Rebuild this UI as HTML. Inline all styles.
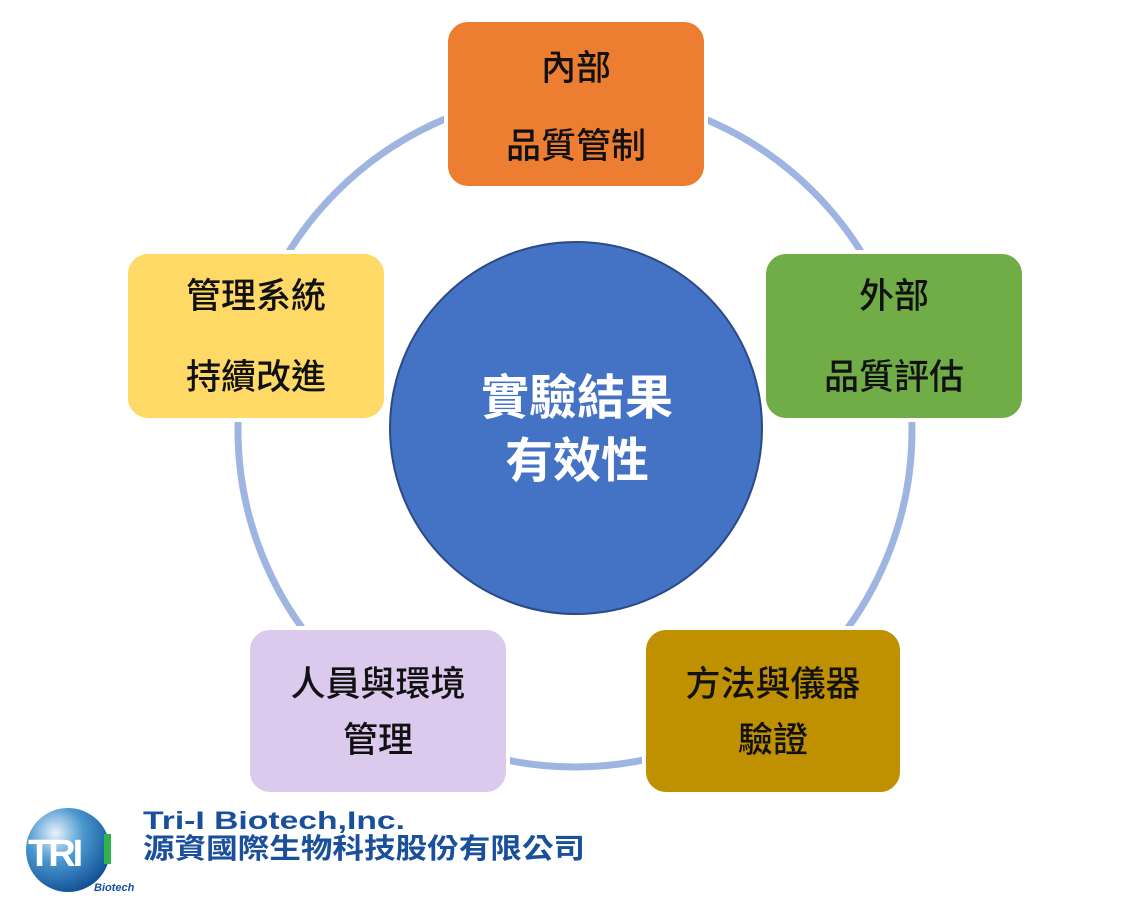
<!DOCTYPE html>
<html><head><meta charset="utf-8"><style>
body{margin:0;width:1140px;height:912px;background:#fff;overflow:hidden}
svg text{font-family:"Liberation Sans","Noto Sans CJK TC",sans-serif}
</style></head><body>
<svg width="1140" height="912" viewBox="0 0 1140 912" xmlns="http://www.w3.org/2000/svg">
<defs><radialGradient id="g" cx="35%" cy="30%" r="75%"><stop offset="0" stop-color="#e8f3fb"/><stop offset="0.45" stop-color="#4a97d0"/><stop offset="1" stop-color="#0f4f94"/></radialGradient></defs>
<circle cx="575" cy="430" r="337" fill="none" stroke="#9fb5e1" stroke-width="7"/>
<circle cx="576" cy="428" r="186" fill="#4472c4" stroke="#2a4a86" stroke-width="2"/>
<g font-size="48" fill="#fff" text-anchor="middle" font-weight="bold">
<text x="577" y="414">實驗結果</text><text x="577" y="477">有效性</text></g>
<g stroke="#fff" stroke-width="4">
<rect x="446" y="20" width="260" height="168" rx="22" fill="#ed7d31"/>
<rect x="764" y="252" width="260" height="168" rx="22" fill="#70ad47"/>
<rect x="644" y="628" width="258" height="166" rx="22" fill="#bf9000"/>
<rect x="248" y="628" width="260" height="166" rx="22" fill="#dcc9ee"/>
<rect x="126" y="252" width="260" height="168" rx="22" fill="#ffd966"/>
</g>
<g font-size="35" fill="#111" text-anchor="middle" font-weight="500">
<text x="576" y="80">內部</text><text x="576" y="158">品質管制</text>
<text x="894" y="308">外部</text><text x="894" y="389">品質評估</text>
<text x="773" y="696">方法與儀器</text><text x="773" y="752">驗證</text>
<text x="378" y="696">人員與環境</text><text x="378" y="752">管理</text>
<text x="256" y="308">管理系統</text><text x="256" y="389">持續改進</text>
</g>
<circle cx="68" cy="850" r="42" fill="url(#g)"/>
<text x="28" y="866" font-size="38" font-weight="bold" fill="#fff" letter-spacing="-3">TRI</text>
<rect x="104" y="834" width="7" height="30" fill="#2fb34a"/>
<text x="94" y="891" font-size="11" font-style="italic" font-weight="bold" fill="#1a4f9c">Biotech</text>
<text x="143" y="829" font-size="25" font-weight="bold" fill="#1a4f9c" textLength="262" lengthAdjust="spacingAndGlyphs">Tri-I Biotech,Inc.</text>
<text x="143" y="858" font-size="28" font-weight="bold" fill="#1a4f9c" textLength="442" lengthAdjust="spacingAndGlyphs">源資國際生物科技股份有限公司</text>
</svg>
</body></html>
